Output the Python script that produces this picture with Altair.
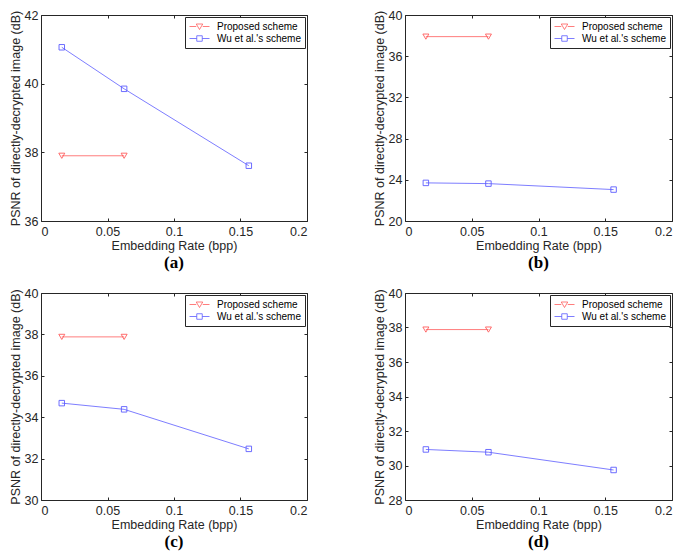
import altair as alt
import pandas as pd

series_names = ["Proposed scheme", "Wu et al.'s scheme"]
series_colors = ["#ff5c5c", "#5c5cff"]
series_shapes = ["triangle-down", "square"]

rate_proposed = [0.015625, 0.0625]
rate_wu = [0.015625, 0.0625, 0.15625]

psnr_proposed_a = [37.9, 37.9]
psnr_wu_a = [41.06, 39.85, 37.61]
psnr_proposed_b = [37.9, 37.9]
psnr_wu_b = [23.7, 23.63, 23.05]
psnr_proposed_c = [37.88, 37.88]
psnr_wu_c = [34.68, 34.38, 32.47]
psnr_proposed_d = [37.88, 37.88]
psnr_wu_d = [30.93, 30.77, 29.74]

x_ticks = [0, 0.05, 0.1, 0.15, 0.2]
y_ticks_a = [36, 38, 40, 42]
y_ticks_b = [20, 24, 28, 32, 36, 40]
y_ticks_c = [30, 32, 34, 36, 38, 40]
y_ticks_d = [28, 30, 32, 34, 36, 38, 40]
captions = ["(a)", "(b)", "(c)", "(d)"]

TRI_PATH = "M-2,0L-0.65,0M0.65,0L2,0M-0.65,-0.5L0.65,-0.5L0,0.6Z"
SQ_PATH = "M-2,0L-0.55,0M0.55,0L2,0M-0.55,-0.55L0.55,-0.55L0.55,0.55L-0.55,0.55Z"

INK = "#262626"
FONT = "Liberation Sans"


def panel(prop, wu, yticks, cap, w, h):
    df = pd.DataFrame({
        "rate": rate_proposed + rate_wu,
        "psnr": prop + wu,
        "series": [series_names[0]] * len(prop) + [series_names[1]] * len(wu),
    })
    base = alt.Chart(df)
    xs = alt.Scale(domain=[x_ticks[0], x_ticks[-1]], nice=False, zero=False)
    ys = alt.Scale(domain=[yticks[0], yticks[-1]], nice=False, zero=False)

    main_x = alt.Axis(values=x_ticks, format="~g", title="Embedding Rate (bpp)",
                      ticks=False, domain=False, grid=False,
                      labelPadding=4, titlePadding=2)
    main_y = alt.Axis(values=yticks, format="d",
                      title="PSNR of directly-decrypted image (dB)",
                      ticks=False, domain=False, grid=False,
                      labelPadding=3, titlePadding=2)
    hx = alt.X("rate:Q", scale=xs, axis=None)
    hy = alt.Y("psnr:Q", scale=ys, axis=None)

    layers = []
    for i, name in enumerate(series_names):
        sub = base.transform_filter(alt.datum.series == name)
        if i == 0:
            ln = sub.mark_line(strokeWidth=0.8, color=series_colors[i]).encode(
                x=alt.X("rate:Q", scale=xs, axis=main_x),
                y=alt.Y("psnr:Q", scale=ys, axis=main_y),
            )
        else:
            ln = sub.mark_line(strokeWidth=0.8, color=series_colors[i]).encode(x=hx, y=hy)
        pt = sub.mark_point(shape=series_shapes[i], size=36 if i == 0 else 30,
                            strokeWidth=0.9, filled=False, opacity=1,
                            color=series_colors[i]).encode(x=hx, y=hy)
        layers += [ln, pt]

    legend_def = alt.Legend(
        title=None, orient="top-right", offset=2, padding=4,
        strokeColor=INK, fillColor="white", labelFont=FONT, labelFontSize=10,
        labelColor="black", symbolSize=100, symbolStrokeWidth=0.8,
        symbolOpacity=1, rowPadding=1, symbolOffset=5, labelOffset=12,
        cornerRadius=0,
    )
    col = alt.Scale(domain=series_names, range=series_colors)
    leg = base.mark_point(opacity=0, filled=False).encode(
        x=hx, y=hy,
        stroke=alt.Stroke("series:N", scale=col, legend=legend_def),
        shape=alt.Shape("series:N",
                        scale=alt.Scale(domain=series_names, range=[TRI_PATH, SQ_PATH]),
                        legend=legend_def),
    )
    tick_common = dict(labels=False, title=None, domain=False, grid=False,
                       tickSize=3, tickColor=INK, tickWidth=1)
    ticks1 = base.mark_point(opacity=0).encode(
        x=alt.X("rate:Q", scale=xs,
                axis=alt.Axis(orient="top", offset=-h, values=x_ticks, **tick_common)),
        y=alt.Y("psnr:Q", scale=ys,
                axis=alt.Axis(orient="right", offset=-w, values=yticks, **tick_common)),
    )
    ticks2 = base.mark_point(opacity=0).encode(
        x=alt.X("rate:Q", scale=xs,
                axis=alt.Axis(orient="bottom", offset=-h, values=x_ticks, **tick_common)),
        y=alt.Y("psnr:Q", scale=ys,
                axis=alt.Axis(orient="left", offset=-w, values=yticks, **tick_common)),
    )
    return alt.layer(*layers, leg, ticks1, ticks2).resolve_axis(
        x="independent", y="independent"
    ).properties(
        width=w, height=h,
        title=alt.TitleParams(cap, orient="bottom", anchor="middle",
                              font="Liberation Serif", fontSize=17,
                              fontWeight="bold", color="black", offset=3),
    )


pa = panel(psnr_proposed_a, psnr_wu_a, y_ticks_a, captions[0], 266, 206)
pb = panel(psnr_proposed_b, psnr_wu_b, y_ticks_b, captions[1], 267, 206)
pc = panel(psnr_proposed_c, psnr_wu_c, y_ticks_c, captions[2], 266, 207)
pd_ = panel(psnr_proposed_d, psnr_wu_d, y_ticks_d, captions[3], 267, 207)

chart = alt.concat(
    pa, pb, pc, pd_, columns=2, spacing={"row": 72, "column": 98}, bounds="flush"
).resolve_scale(
    stroke="independent", shape="independent"
).resolve_legend(
    stroke="independent", shape="independent"
).properties(
    padding=0
).configure_view(
    stroke=INK, strokeWidth=1
).configure_axis(
    labelFont=FONT, titleFont=FONT, labelFontSize=12.5, titleFontSize=12.5,
    labelColor=INK, titleColor=INK, titleFontWeight="normal",
)

chart.save("out.html", embed_options={"renderer": "svg", "actions": False})
